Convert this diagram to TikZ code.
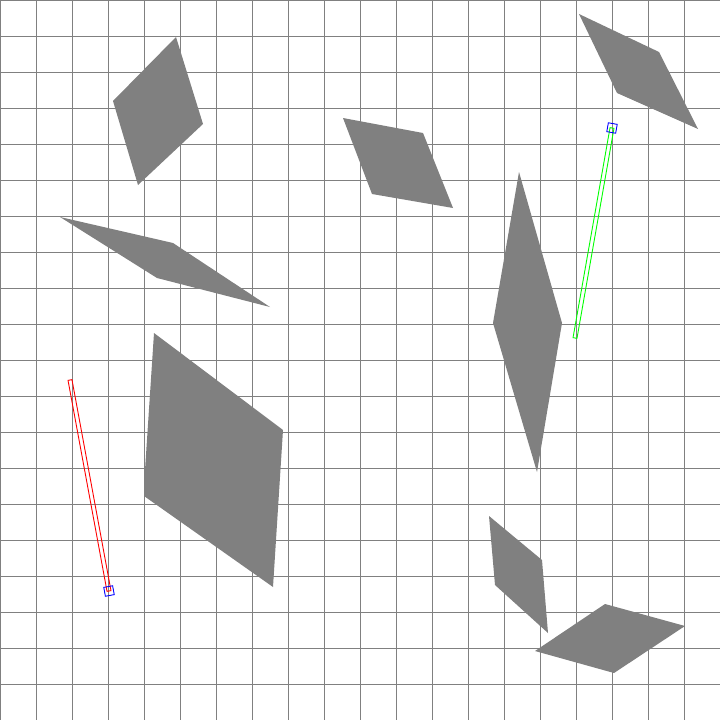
\documentclass[tikz,border=0pt]{standalone}
\usetikzlibrary{calc}
\begin{document}
\begin{tikzpicture}[x=1pt,y=-1pt,
  gridline/.style={draw=gray,line width=1pt},
  rhomb/.style={fill=gray},
  barred/.style={draw=red,line width=0.9pt},
  bargreen/.style={draw=green,line width=0.9pt},
  handle/.style={draw=blue,line width=0.9pt,minimum size=9pt,inner sep=0pt,outer sep=0pt}]
\useasboundingbox (0,0) rectangle (720,720);
\fill[white] (0,0) rectangle (720,720);
% grid
\foreach \i in {0,36,...,720} {
  \draw[gridline] (\i,0) -- (\i,720);
  \draw[gridline] (0,\i) -- (720,\i);
}
% shapes
\fill[rhomb] (176,37) -- (203,124) -- (138,185) -- (113,101) -- cycle;
\fill[rhomb] (60,217) -- (173,243) -- (270,307) -- (157,278) -- cycle;
\fill[rhomb] (154,333) -- (283,430) -- (273,587) -- (144,496) -- (145,470) -- cycle;
\fill[rhomb] (343,118) -- (423,133) -- (453,208) -- (372,194) -- cycle;
\fill[rhomb] (519,172) -- (562,323) -- (537,472) -- (493,323) -- cycle;
\fill[rhomb] (579,14) -- (659,52) -- (698,129) -- (617,93) -- cycle;
\fill[rhomb] (489,516) -- (542,560) -- (548,633) -- (495,585) -- cycle;
\fill[rhomb] (535,651) -- (605,604) -- (685,626) -- (614,673) -- cycle;
% red bar
\coordinate (ra) at (70,380);
\coordinate (rb) at (109,591);
\draw[barred] ($(ra)!2pt!90:(rb)$) -- ($(rb)!2pt!-90:(ra)$) -- ($(rb)!2pt!90:(ra)$) -- ($(ra)!2pt!-90:(rb)$) -- cycle;
\node[handle,rotate=10.5] (rh) at (rb) {};
% green bar
\coordinate (ga) at (575,338);
\coordinate (gb) at (612,128);
\draw[bargreen] ($(ga)!2pt!90:(gb)$) -- ($(gb)!2pt!-90:(ga)$) -- ($(gb)!2pt!90:(ga)$) -- ($(ga)!2pt!-90:(gb)$) -- cycle;
\node[handle,rotate=-10] (gh) at (gb) {};
\end{tikzpicture}
\end{document}
